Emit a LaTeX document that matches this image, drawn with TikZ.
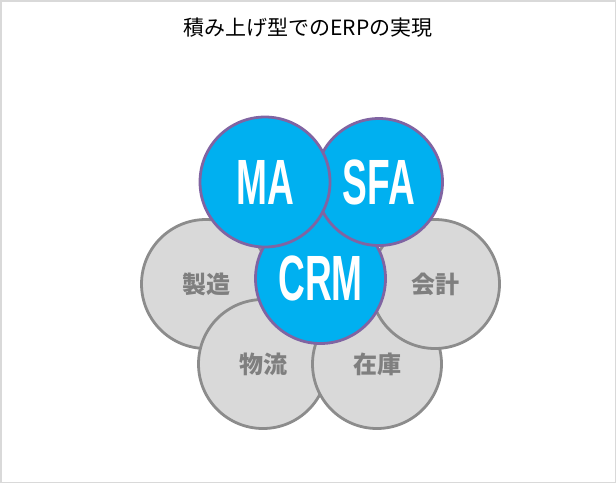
\documentclass[tikz,border=0pt]{standalone}
\usepackage{fontspec}
\setmainfont{Noto Sans CJK JP}
\newfontfamily\modfont{Liberation Sans}
\usepackage{graphicx}
\definecolor{modblue}{HTML}{00B0F0}
\definecolor{modline}{HTML}{8064A2}
\definecolor{basefill}{HTML}{D9D9D9}
\definecolor{baseline}{HTML}{8C8C8C}
\definecolor{basetext}{HTML}{7F7F7F}
\definecolor{frameline}{HTML}{D9D9D9}
% text of the blue modules, narrowed
\newcommand\modtext[1]{\scalebox{0.58}[1]{\modfont\bfseries\fontsize{64}{64}\selectfont #1}}
\tikzset{
  modcirc/.style={circle,draw=modline,fill=modblue,line width=2.8pt,minimum size=130pt,inner sep=0pt,text=white},
  basecirc/.style={circle,draw=baseline,fill=basefill,line width=2.8pt,minimum size=129pt,inner sep=0pt,text=basetext,font=\fontsize{24}{26}\selectfont\bfseries}
}
\begin{document}
\begin{tikzpicture}[x=1pt,y=-1pt]
\useasboundingbox (0,0) rectangle (616,483);

% to draw the frame
\draw [frameline,line width=1.5pt] (0.75,0.75) rectangle (615.25,482.25);

% to write the title
\node (title) at (308,28) {\fontsize{21}{21}\selectfont 積み上げ型でのERPの実現};

% base systems
\node [basecirc] (seizo) at (206,284) {製造};
\node [basecirc] (butsuryu) at (263,364) {物流};
\node [basecirc] (zaiko) at (377,364) {在庫};
\node [basecirc] (kaikei) at (435,284) {会計};

% modules stacked on top
\node [modcirc] (crm) at (320.5,278.5) {\modtext{CRM}};
\node [modcirc,minimum size=127pt] (sfa) at (379,182) {\modtext{SFA}};
\node [modcirc] (ma) at (265,182) {\modtext{MA}};
\end{tikzpicture}
\end{document}
